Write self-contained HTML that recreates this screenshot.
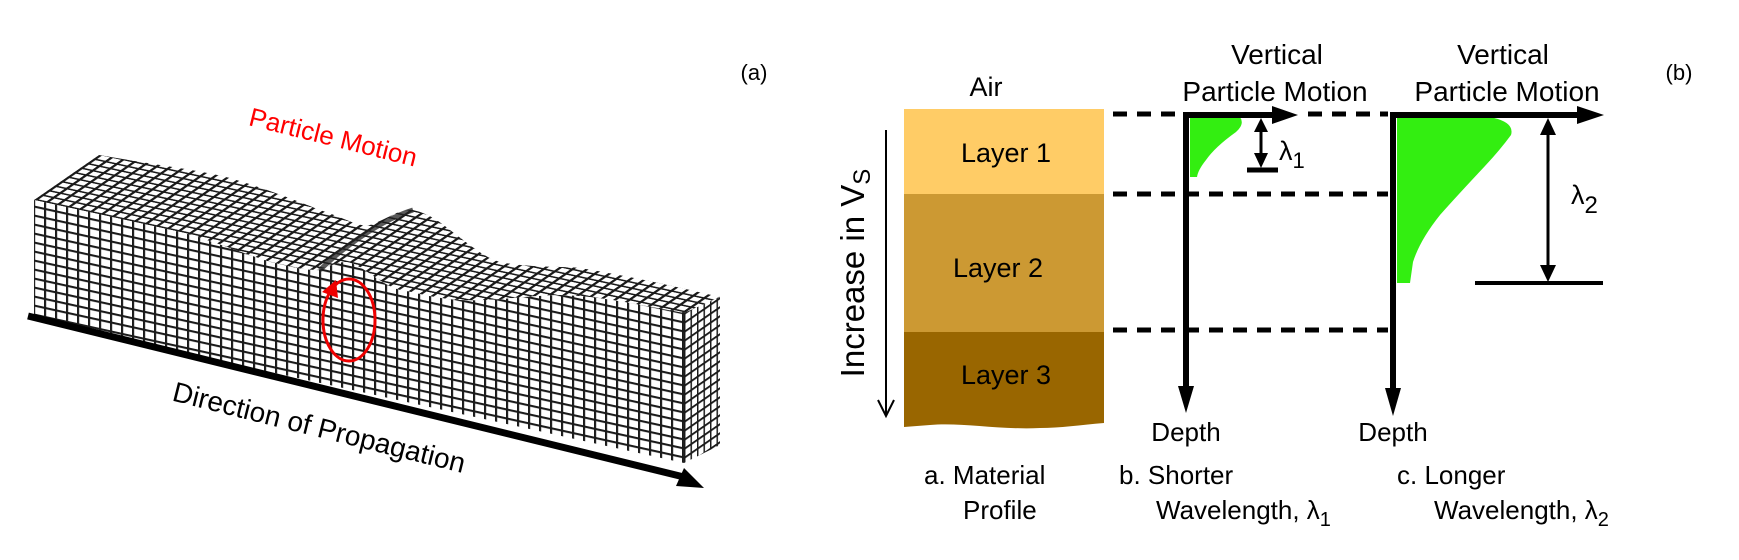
<!DOCTYPE html>
<html><head><meta charset="utf-8"><style>
html,body{margin:0;padding:0;background:#fff;}
svg{display:block;font-family:"Liberation Sans",Arial,sans-serif;}
</style></head><body>
<svg width="1739" height="560" viewBox="0 0 1739 560" xmlns="http://www.w3.org/2000/svg">
<defs>
<pattern id="pf" width="11" height="9" patternUnits="userSpaceOnUse" patternTransform="skewY(12.4)">
<rect width="11" height="9" fill="#fff"/>
<path d="M0,1H11M1,0V9" stroke="#1a1a1a" stroke-width="2.3"/>
</pattern>
<pattern id="pt" width="10" height="10" patternUnits="userSpaceOnUse" patternTransform="matrix(1.1,0.24,0.65,-0.45,34,200)">
<rect width="10" height="10" fill="#fff"/>
<path d="M0,1.2H10M1.2,0V10" stroke="#1a1a1a" stroke-width="3"/>
</pattern>
<pattern id="pr" width="10" height="9" patternUnits="userSpaceOnUse" patternTransform="matrix(0.65,-0.45,0,1,684,313)">
<rect width="10" height="9" fill="#fff"/>
<path d="M0,1H10M1,0V9" stroke="#1a1a1a" stroke-width="2.6"/>
</pattern>
</defs>

<!-- LEFT: mesh block -->
<path d="M34,200 L99,155 C150,164 200,170 230,178 C270,190 300,202 320,210 C345,218 360,228 370,225 C390,218 400,208 413,210 C430,214 440,222 450,230 C470,245 485,258 500,262 C530,268 560,266 580,268 C640,278 690,290 720,297 L684,313 C640,305 600,296 560,295 C520,296 490,302 460,300 C430,298 415,292 400,290 C380,285 360,262 345,262 C335,262 325,270 315,270 C300,270 285,265 270,262 C240,252 210,240 180,232 Z" fill="url(#pt)"/>
<path d="M34,200 C80,210 140,223 180,232 C210,240 240,252 270,262 C285,265 300,270 315,270 C325,270 335,262 345,262 C360,262 380,285 400,290 C415,292 430,298 460,300 C490,302 520,296 560,295 C600,296 640,305 684,313 L684,463 L34,320 Z" fill="url(#pf)"/>
<path d="M684,313 L720,297 L720,445 L684,463 Z" fill="url(#pr)"/>
<path d="M320,270 C340,250 380,220 413,210" stroke="#222" stroke-width="5" fill="none" opacity="0.75"/>
<line x1="28" y1="316" x2="688" y2="478" stroke="#000" stroke-width="7"/>
<polygon points="704,488 676,486 684,468" fill="#000"/>
<ellipse cx="349" cy="320" rx="26" ry="41" fill="none" stroke="#e00" stroke-width="3"/>
<polygon points="322,292 336,280 338,298" fill="#e00"/>
<text x="333" y="146" font-size="26" fill="#f00" text-anchor="middle" transform="rotate(14 333 138)">Particle Motion</text>
<text x="319" y="437" font-size="28" fill="#000" text-anchor="middle" transform="rotate(14 319 428)">Direction of Propagation</text>
<text x="754" y="80" font-size="22" text-anchor="middle">(a)</text>

<!-- RIGHT: layered profile -->
<rect x="904" y="109" width="200" height="86" fill="#FFCC66"/>
<rect x="904" y="194" width="200" height="139" fill="#CC9933"/>
<path d="M904,332 H1104 V423 C1080,425 1060,428 1040,428 C1000,430 960,422 930,425 L904,427 Z" fill="#996600"/>
<text x="986" y="96" font-size="27" text-anchor="middle">Air</text>
<text x="1006" y="162" font-size="27" text-anchor="middle">Layer 1</text>
<text x="998" y="277" font-size="27" text-anchor="middle">Layer 2</text>
<text x="1006" y="384" font-size="27" text-anchor="middle">Layer 3</text>
<text x="0" y="0" font-size="33" text-anchor="middle" transform="translate(864 273) rotate(-90)">Increase in V<tspan font-size="24" dy="6">S</tspan></text>
<line x1="886" y1="130" x2="886" y2="415" stroke="#000" stroke-width="2"/>
<polyline points="878,400 886,416 894,400" fill="none" stroke="#000" stroke-width="2"/>

<g stroke="#000" stroke-width="5" stroke-dasharray="14,10">
<line x1="1113" y1="114" x2="1180" y2="114"/>
<line x1="1308" y1="114" x2="1388" y2="114"/>
<line x1="1113" y1="194" x2="1388" y2="194"/>
<line x1="1113" y1="330" x2="1388" y2="330"/>
</g>

<!-- plot 1 -->
<path d="M1190,117 L1240,117 Q1245,124 1236,132 Q1215,147 1206,160 Q1198,170 1197,177 L1190,177 Z" fill="#33ee11"/>
<line x1="1186" y1="112" x2="1186" y2="390" stroke="#000" stroke-width="6"/>
<polygon points="1178,386 1194,386 1186,413" fill="#000"/>
<line x1="1183" y1="115" x2="1275" y2="115" stroke="#000" stroke-width="6"/>
<polygon points="1272,106 1272,124 1298,115" fill="#000"/>
<line x1="1261" y1="125" x2="1261" y2="160" stroke="#000" stroke-width="3"/>
<polygon points="1254,132 1268,132 1261,118" fill="#000"/>
<polygon points="1254,153 1268,153 1261,168" fill="#000"/>
<line x1="1247" y1="170" x2="1278" y2="170" stroke="#000" stroke-width="5"/>
<text x="1279" y="160" font-size="27">λ<tspan font-size="22" dy="8">1</tspan></text>
<text x="1277" y="64" font-size="28" text-anchor="middle">Vertical</text>
<text x="1275" y="101" font-size="28" text-anchor="middle">Particle Motion</text>
<text x="1186" y="441" font-size="26" text-anchor="middle">Depth</text>

<!-- plot 2 -->
<path d="M1397,117 L1490,117 Q1515,122 1511,135 Q1500,150 1485,166 Q1455,198 1440,215 Q1420,240 1413,262 L1410,283 L1397,283 Z" fill="#33ee11"/>
<line x1="1393" y1="112" x2="1393" y2="392" stroke="#000" stroke-width="6"/>
<polygon points="1385,388 1401,388 1393,416" fill="#000"/>
<line x1="1390" y1="115" x2="1580" y2="115" stroke="#000" stroke-width="6"/>
<polygon points="1577,106 1577,124 1604,115" fill="#000"/>
<line x1="1548" y1="130" x2="1548" y2="270" stroke="#000" stroke-width="3"/>
<polygon points="1540,135 1556,135 1548,118" fill="#000"/>
<polygon points="1540,265 1556,265 1548,282" fill="#000"/>
<line x1="1475" y1="283" x2="1603" y2="283" stroke="#000" stroke-width="4"/>
<text x="1571" y="204" font-size="27">λ<tspan font-size="24" dy="9">2</tspan></text>
<text x="1503" y="64" font-size="28" text-anchor="middle">Vertical</text>
<text x="1507" y="101" font-size="28" text-anchor="middle">Particle Motion</text>
<text x="1393" y="441" font-size="26" text-anchor="middle">Depth</text>
<text x="1679" y="80" font-size="22" text-anchor="middle">(b)</text>

<!-- captions -->
<g font-size="26">
<text x="924" y="484">a. Material</text>
<text x="963" y="519">Profile</text>
<text x="1119" y="484">b. Shorter</text>
<text x="1156" y="519">Wavelength, λ<tspan font-size="20" dy="7">1</tspan></text>
<text x="1397" y="484">c. Longer</text>
<text x="1434" y="519">Wavelength, λ<tspan font-size="20" dy="7">2</tspan></text>
</g>
</svg>
</body></html>
